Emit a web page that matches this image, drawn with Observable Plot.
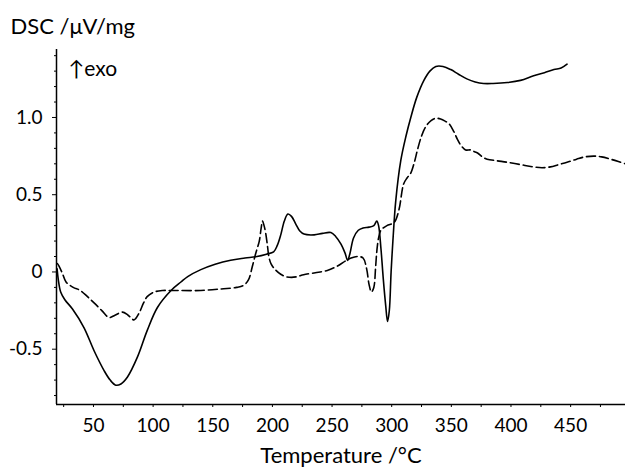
<!DOCTYPE html>
<html><head><meta charset="utf-8">
<script src="https://cdn.jsdelivr.net/npm/d3@7"></script>
<script src="https://cdn.jsdelivr.net/npm/@observablehq/plot@0.6"></script>
<style>body{margin:0;background:#fff}</style>
</head><body><div id="chart"></div>
<script>
// Solid curve: temperature (°C) and DSC (µV/mg)
const solidT = [19.5,20.5,22.5,26,32.4,42,50.5,59,64,68.7,73,78.5,86.9,95,103.6,115,123.3,129,140,152,165,177,187,195,201,204,207,210,213,216,219.6,223,226.5,235,242,249,253,257.5,261,263,265,268,272,276,281,285,287.5,289,291,293,295,296.5,298,299.5,301,303.4,307.6,312,316,321,327,332,337,343,349.5,356,363,370,377,385,397,408,419,428,436,442,447];
const solidV = [0.02,-0.05,-0.13,-0.18,-0.24,-0.36,-0.51,-0.64,-0.70,-0.733,-0.725,-0.68,-0.55,-0.38,-0.23,-0.12,-0.065,-0.03,0.015,0.05,0.076,0.09,0.10,0.115,0.13,0.17,0.24,0.33,0.375,0.36,0.31,0.265,0.245,0.24,0.25,0.255,0.23,0.18,0.12,0.075,0.12,0.22,0.27,0.285,0.29,0.30,0.33,0.30,0.15,-0.05,-0.22,-0.32,-0.25,0.0,0.2,0.46,0.72,0.88,1.0,1.13,1.24,1.30,1.33,1.33,1.31,1.28,1.25,1.23,1.22,1.22,1.226,1.24,1.27,1.29,1.31,1.32,1.345];
// Dashed curve
const dashT = [19.8,21,24,27,33,39,45,50.5,57,63,68,74.3,79,84,88,92,95,100.8,108,115,123,140,157,170,176,180,183,186,189,190.5,191.7,193,194.4,196,197,199,203,207,211,216,221,225,228,236,246,255,262,266,272,276,279,281,283,285,286.5,287.6,289,291,296,302,306,310,313,316,319,321.6,325,328.5,333,337,341,345,348,352,355,358,362,366,369,372,376,380,388,397,408,419,426,433,440,447,455,462,469.5,476,483.5,490,496];
const dashV = [0.054,0.04,-0.01,-0.065,-0.1,-0.12,-0.16,-0.2,-0.25,-0.295,-0.28,-0.26,-0.28,-0.31,-0.27,-0.2,-0.16,-0.13,-0.12,-0.12,-0.12,-0.12,-0.11,-0.1,-0.086,-0.05,0.03,0.12,0.2,0.28,0.33,0.3,0.25,0.16,0.1,0.05,0.01,-0.015,-0.03,-0.035,-0.03,-0.02,-0.015,-0.005,0.01,0.04,0.075,0.09,0.1,0.09,0.02,-0.08,-0.13,-0.1,0.03,0.14,0.22,0.27,0.3,0.32,0.4,0.57,0.61,0.64,0.71,0.79,0.88,0.94,0.98,0.995,0.99,0.975,0.96,0.91,0.86,0.82,0.79,0.79,0.78,0.77,0.745,0.73,0.72,0.71,0.695,0.68,0.675,0.68,0.695,0.71,0.73,0.745,0.75,0.745,0.73,0.715,0.70];

const xTicks = [50,100,150,200,250,300,350,400,450];
const xMinorTicks = [25,75,125,175,225,275,325,375,425,475];
const yTicks = [-0.5,0,0.5,1.0];
const yTickLabels = ["-0.5","0","0.5","1.0"];
const yMinorTicks = [-0.8,-0.7,-0.6,-0.4,-0.3,-0.2,-0.1,0.1,0.2,0.3,0.4,0.6,0.7,0.8,0.9,1.1,1.2,1.3,1.4];
const yTitle = "DSC /\u03BCV/mg";
const xTitle = "Temperature /\u00B0C";
const exoLabel = "\u2191exo";

const solid = solidT.map((t,i)=>({t, v: solidV[i]}));
const dashed = dashT.map((t,i)=>({t, v: dashV[i]}));
const xDomain = [19, 496];
const yDomain = [-0.858, 1.44];

const chart = Plot.plot({
  width: 625, height: 469,
  marginLeft: 56, marginRight: 0, marginTop: 49, marginBottom: 65,
  style: {fontFamily: "Lato, sans-serif", fontSize: "19px", color: "#000", background: "#fff"},
  x: {domain: xDomain},
  y: {domain: yDomain},
  marks: [
    Plot.axisX({ticks: xMinorTicks, tickSize: 3, tickFormat: () => "", label: null}),
    Plot.axisX({ticks: xTicks, tickSize: 3, tickPadding: 11, tickFormat: d => String(d), label: null}),
    Plot.axisY({ticks: yMinorTicks, tickSize: 2, tickFormat: () => "", label: null}),
    Plot.axisY({ticks: yTicks, tickSize: 4, tickPadding: 10, tickFormat: d => yTickLabels[yTicks.indexOf(d)], label: null}),
    Plot.ruleX([xDomain[0]], {stroke: "#000", strokeWidth: 1.5}),
    Plot.ruleY([yDomain[0]], {stroke: "#000", strokeWidth: 1.5}),
    Plot.line(dashed, {x: "t", y: "v", stroke: "#000", strokeWidth: 1.6, strokeDasharray: "9,4", curve: "catmull-rom"}),
    Plot.line(solid, {x: "t", y: "v", stroke: "#000", strokeWidth: 1.6, curve: "catmull-rom"}),
    Plot.text([yTitle], {frameAnchor: "top-left", dx: -46, dy: -16, textAnchor: "start", lineAnchor: "bottom", fontSize: 22}),
    Plot.text([exoLabel], {frameAnchor: "top-left", dx: 12, dy: 26, textAnchor: "start", lineAnchor: "bottom", fontSize: 21}),
    Plot.text([xTitle], {frameAnchor: "bottom", dy: 58, lineAnchor: "bottom", fontSize: 22})
  ]
});
document.getElementById("chart").appendChild(chart);
</script>
</body></html>
